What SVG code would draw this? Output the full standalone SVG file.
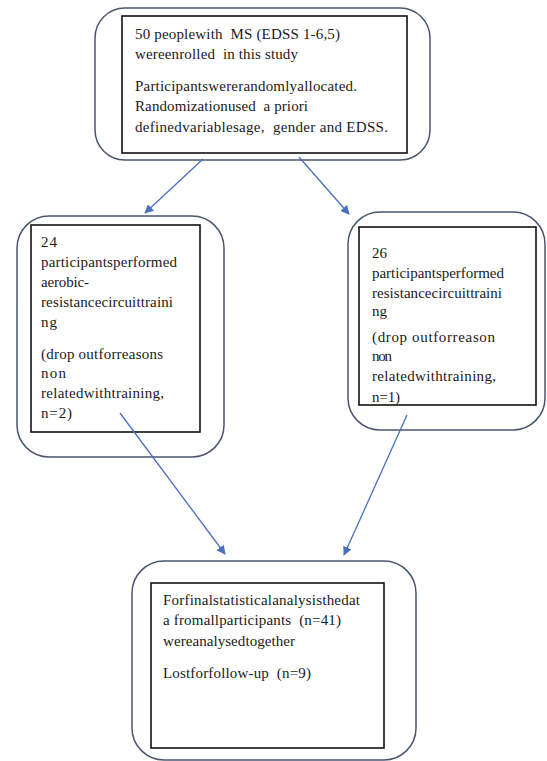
<svg xmlns="http://www.w3.org/2000/svg" width="547" height="761" viewBox="0 0 547 761">
<style>
.outer{fill:#fff;stroke:#4a5570;stroke-width:1.5}
.inner{fill:#fff;stroke:#111;stroke-width:1.6}
.t{font-family:'Liberation Serif','DejaVu Serif',serif;font-size:15px;fill:#1a1a1a;white-space:pre}
.c{stroke:#4a6fc0;stroke-width:1.3;fill:none}
</style>
<defs>
<marker id="ah" viewBox="0 0 10 10" refX="9" refY="5" markerWidth="9" markerHeight="9" markerUnits="userSpaceOnUse" orient="auto">
<path d="M0,0 L10,5 L0,10 z" fill="#4a6fc0"/>
</marker>
<clipPath id="clipR"><rect x="359" y="227" width="177" height="177"/></clipPath>
</defs>
<rect width="547" height="761" fill="#fff"/>
<g id="n1">
<rect class="outer" x="95" y="8" width="335" height="152" rx="30"/>
<rect class="inner" x="122" y="16" width="285" height="137"/>
<text class="t" x="135" y="39" textLength="205">50 peoplewith  MS (EDSS 1-6,5)</text>
<text class="t" x="135" y="59" textLength="163">wereenrolled  in this study</text>
<text class="t" x="135" y="91" textLength="222">Participantswererandomlyallocated.</text>
<text class="t" x="135" y="111" textLength="173">Randomizationused  a priori</text>
<text class="t" x="135" y="132" textLength="253">definedvariablesage,  gender and EDSS.</text>
</g>
<g id="n2">
<rect class="outer" x="17" y="216" width="207" height="241" rx="32"/>
<rect class="inner" x="31" y="225" width="169" height="207"/>
<text class="t" x="41" y="247" textLength="16">24</text>
<text class="t" x="41" y="267" textLength="136">participantsperformed</text>
<text class="t" x="41" y="287" textLength="48">aerobic-</text>
<text class="t" x="41" y="307" textLength="132">resistancecircuittraini</text>
<text class="t" x="41" y="327" textLength="16">ng</text>
<text class="t" x="41" y="359" textLength="122">(drop outforreasons</text>
<text class="t" x="41" y="378" textLength="25">non</text>
<text class="t" x="41" y="398" textLength="123">relatedwithtraining,</text>
<text class="t" x="41" y="418" textLength="31">n=2)</text>
</g>
<g id="n3">
<rect class="outer" x="348" y="212" width="197" height="218" rx="32"/>
<rect class="inner" x="359" y="227" width="177" height="178"/>
<g clip-path="url(#clipR)">
<text class="t" x="372" y="258" textLength="15">26</text>
<text class="t" x="372" y="278" textLength="132">participantsperformed</text>
<text class="t" x="372" y="298" textLength="130">resistancecircuittraini</text>
<text class="t" x="372" y="316" textLength="15">ng</text>
<text class="t" x="372" y="342" textLength="123">(drop outforreason</text>
<text class="t" x="372" y="361" textLength="20">non</text>
<text class="t" x="372" y="381" textLength="124">relatedwithtraining,</text>
<text class="t" x="372" y="402" textLength="28">n=1)</text>
</g>
</g>
<g id="n4">
<rect class="outer" x="132" y="561" width="284" height="199" rx="32"/>
<rect class="inner" x="151" y="583" width="233" height="165"/>
<text class="t" x="163" y="605" textLength="197">Forfinalstatisticalanalysisthedat</text>
<text class="t" x="163" y="625" textLength="178">a fromallparticipants  (n=41)</text>
<text class="t" x="163" y="646" textLength="132">wereanalysedtogether</text>
<text class="t" x="163" y="678" textLength="148">Lostforfollow-up  (n=9)</text>
</g>
<g id="connectors">
<line class="c" x1="203" y1="159" x2="145" y2="213" marker-end="url(#ah)"/>
<line class="c" x1="299" y1="157" x2="349" y2="214" marker-end="url(#ah)"/>
<line class="c" x1="120" y1="413" x2="225" y2="554" marker-end="url(#ah)"/>
<line class="c" x1="407" y1="415" x2="344" y2="555" marker-end="url(#ah)"/>
</g>
</svg>
